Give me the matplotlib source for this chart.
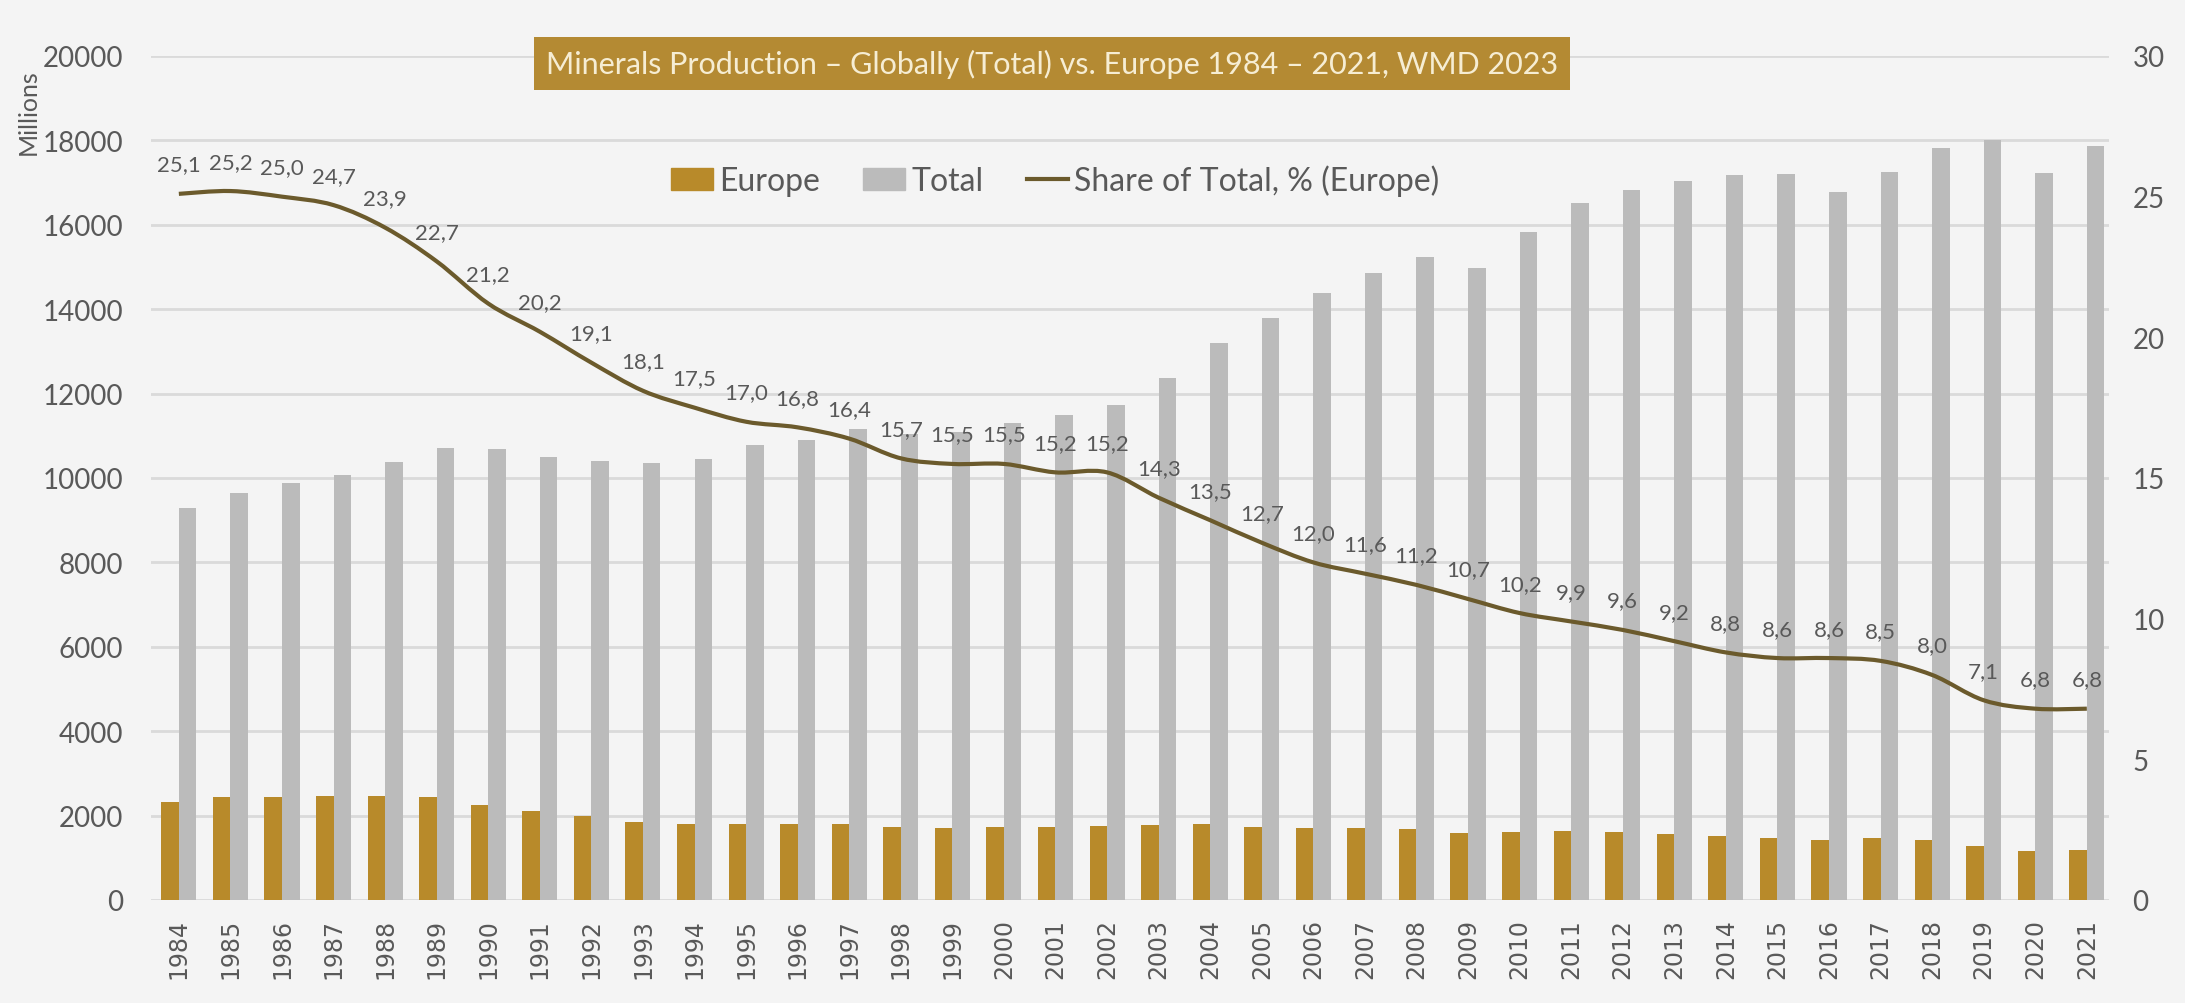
import matplotlib
matplotlib.use("Agg")
import matplotlib.pyplot as plt
import numpy as np
from matplotlib.path import Path
from matplotlib.patches import PathPatch, Patch
from matplotlib.lines import Line2D

years = list(range(1984, 2022))
europe = [2330, 2430, 2450, 2470, 2460, 2430, 2250, 2110, 1980, 1860, 1800, 1800,
          1810, 1800, 1740, 1700, 1720, 1730, 1755, 1780, 1795, 1740, 1715, 1715,
          1685, 1580, 1620, 1635, 1605, 1575, 1525, 1480, 1425, 1460, 1410, 1290,
          1160, 1195]
total = [9300, 9650, 9880, 10080, 10380, 10700, 10680, 10500, 10400, 10350, 10450, 10780,
         10900, 11150, 11050, 11100, 11300, 11500, 11730, 12380, 13200, 13800, 14380, 14850,
         15230, 14980, 15830, 16520, 16830, 17030, 17190, 17200, 16780, 17250, 17830, 18000,
         17230, 17870]
share = [25.1, 25.2, 25.0, 24.7, 23.9, 22.7, 21.2, 20.2, 19.1, 18.1, 17.5, 17.0, 16.8,
         16.4, 15.7, 15.5, 15.5, 15.2, 15.2, 14.3, 13.5, 12.7, 12.0, 11.6, 11.2, 10.7,
         10.2, 9.9, 9.6, 9.2, 8.8, 8.6, 8.6, 8.5, 8.0, 7.1, 6.8, 6.8]

gold = "#B88A2A"
grey = "#BBBBBB"
line_col = "#6B5A2C"
txt = "#595959"
narrow = ["Lato", "DejaVu Sans"]

fig = plt.figure(figsize=(21.85, 10.04), dpi=100, facecolor="#F4F4F4")
ax = fig.add_axes([151 / 2185, 1 - 901 / 1004, (2109 - 151) / 2185, 844 / 1004])
ax.set_facecolor("#F4F4F4")
x = np.arange(len(years))
w = 0.34
ax.bar(x - w / 2, europe, w, color=gold, zorder=2)
ax.bar(x + w / 2, total, w, color=grey, zorder=2)
ax.set_ylim(0, 20000)
ax.set_xlim(-0.54, len(years) - 1 + 0.43)
ax.set_yticks(range(0, 20001, 2000))
ax.yaxis.grid(True, color="#DADADA", linewidth=2)
ax.set_axisbelow(True)
ax.set_xticks(x)
ax.set_xticklabels([str(y) for y in years], rotation=90, fontsize=17, color=txt)
for lab in ax.get_yticklabels():
    lab.set_family(narrow)
ax.tick_params(axis="y", labelsize=20, colors=txt, length=0, pad=20)
ax.tick_params(axis="x", length=0, pad=13)
for s in ax.spines.values():
    s.set_visible(False)

ax2 = ax.twinx()
ax2.set_ylim(0, 30)
ax2.set_yticks(range(0, 31, 5))
ax2.tick_params(axis="y", labelsize=20, colors=txt, length=0, pad=17)
for lab in ax2.get_yticklabels():
    lab.set_family(narrow)
for s in ax2.spines.values():
    s.set_visible(False)

# smooth line through the share points (Bezier rendering)
pts = np.column_stack([x, share]).astype(float)
verts = [tuple(pts[0])]
codes = [Path.MOVETO]
n = len(pts)
for i in range(n - 1):
    p0 = pts[max(i - 1, 0)]
    p1 = pts[i]
    p2 = pts[i + 1]
    p3 = pts[min(i + 2, n - 1)]
    c1 = p1 + (p2 - p0) / 6
    c2 = p2 - (p3 - p1) / 6
    verts += [tuple(c1), tuple(c2), tuple(p2)]
    codes += [Path.CURVE4] * 3
ax2.add_patch(PathPatch(Path(verts, codes), facecolor="none", edgecolor=line_col,
                        linewidth=3, zorder=3))

for xi, v in zip(x, share):
    ax2.annotate(f"{v:.1f}".replace(".", ","), (xi, v), xytext=(0, 14),
                 textcoords="offset points", ha="center", va="bottom",
                 fontsize=16, color=txt, family=narrow)

handles = [Patch(color=gold), Patch(color=grey), Line2D([], [], color=line_col, lw=3)]
ax.legend(handles, ["Europe", "Total", "Share of Total, % (Europe)"],
          loc="center", bbox_to_anchor=(0.462, 0.853), ncol=3, frameon=False,
          prop={"family": narrow, "size": 23}, labelcolor=txt,
          handlelength=1.3, handletextpad=0.2, columnspacing=1.35)

fig.text(0.4815, 0.9358, "Minerals Production – Globally (Total) vs. Europe 1984 – 2021, WMD 2023",
         ha="center", va="center", fontsize=22, color="#F6EDD3", family=narrow,
         bbox=dict(boxstyle="square,pad=0.4", facecolor="#B48A33", edgecolor="none"))

fig.text(28 / 2185, 1 - 112 / 1004, "Millions", rotation=90, ha="center", va="center",
         fontsize=18, color=txt, family=narrow)

fig.savefig("out.png", dpi=100, facecolor=fig.get_facecolor())
